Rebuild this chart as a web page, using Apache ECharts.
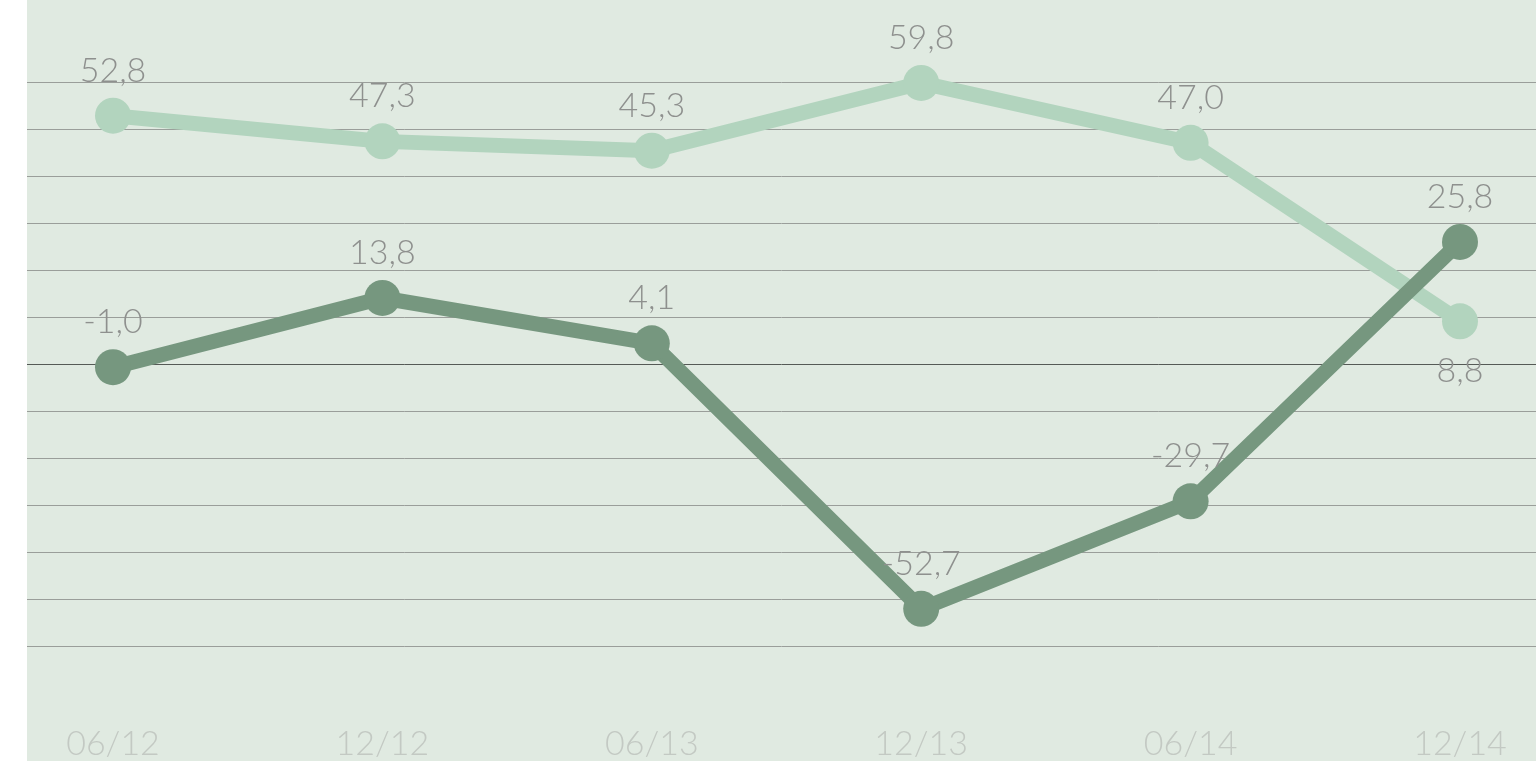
<!DOCTYPE html>
<html>
<head>
<meta charset="utf-8">
<script src="https://cdn.jsdelivr.net/npm/echarts@6/dist/echarts.min.js"></script>
<style>
  html, body { margin: 0; padding: 0; background: #fff; }
  #main {
    width: 1536px; height: 761px;
    background: linear-gradient(to right, #fff 27px, #e0eae1 27px);
  }
</style>
</head>
<body>
<div id="main"></div>
<script>
var categories = ['06/12', '12/12', '06/13', '12/13', '06/14', '12/14'];
var lightValues = [52.8, 47.3, 45.3, 59.8, 47.0, 8.8];
var darkValues = [-1.0, 13.8, 4.1, -52.7, -29.7, 25.8];

var chart = echarts.init(document.getElementById('main'));

// grid line colours: the zero line is darker
var lineColors = [];
for (var v = -60; v <= 60; v += 10) {
  lineColors.push(v === 0 ? '#555a56' : '#9a9e9a');
}

function fmt(p) {
  return p.value.toFixed(1).replace('.', ',');
}

var labelStyle = {
  show: true,
  position: 'top',
  distance: 10,
  color: '#8e908e',
  fontFamily: 'Lato',
  fontWeight: 300,
  fontSize: 34,
  formatter: fmt
};

// last light point has its label underneath
var lightData = lightValues.map(function (val, i) {
  return i === lightValues.length - 1
    ? { value: val, label: { position: 'bottom', distance: 15 } }
    : val;
});

chart.setOption({
  animation: false,
  grid: [
    { left: 113, right: 76, top: 82, bottom: 115 },
    { left: 27, right: 0, top: 82, bottom: 115 }
  ],
  xAxis: [
    {
      type: 'category', gridIndex: 0, data: categories, boundaryGap: false,
      axisLine: { show: false }, axisTick: { show: false },
      axisLabel: {
        margin: 84, color: '#c3c9c3', fontFamily: 'Lato', fontWeight: 300, fontSize: 34
      }
    },
    { type: 'value', gridIndex: 1, show: false }
  ],
  yAxis: [
    {
      type: 'value', gridIndex: 0, min: -60, max: 60, interval: 10,
      axisLine: { show: false }, axisLabel: { show: false },
      axisTick: { show: false }, splitLine: { show: false }
    },
    {
      type: 'value', gridIndex: 1, min: -60, max: 60, interval: 10,
      axisLine: { show: false }, axisLabel: { show: false }, axisTick: { show: false },
      splitLine: { show: true, lineStyle: { color: lineColors, width: 1 } }
    }
  ],
  series: [
    {
      name: 'light', type: 'line', data: lightData,
      xAxisIndex: 0, yAxisIndex: 0,
      symbol: 'circle', symbolSize: 36,
      lineStyle: { color: '#b2d4be', width: 15 },
      itemStyle: { color: '#b2d4be' },
      label: labelStyle
    },
    {
      name: 'dark', type: 'line', data: darkValues,
      xAxisIndex: 0, yAxisIndex: 0,
      symbol: 'circle', symbolSize: 36,
      lineStyle: { color: '#76977f', width: 15 },
      itemStyle: { color: '#76977f' },
      label: labelStyle
    }
  ]
});
</script>
</body>
</html>
